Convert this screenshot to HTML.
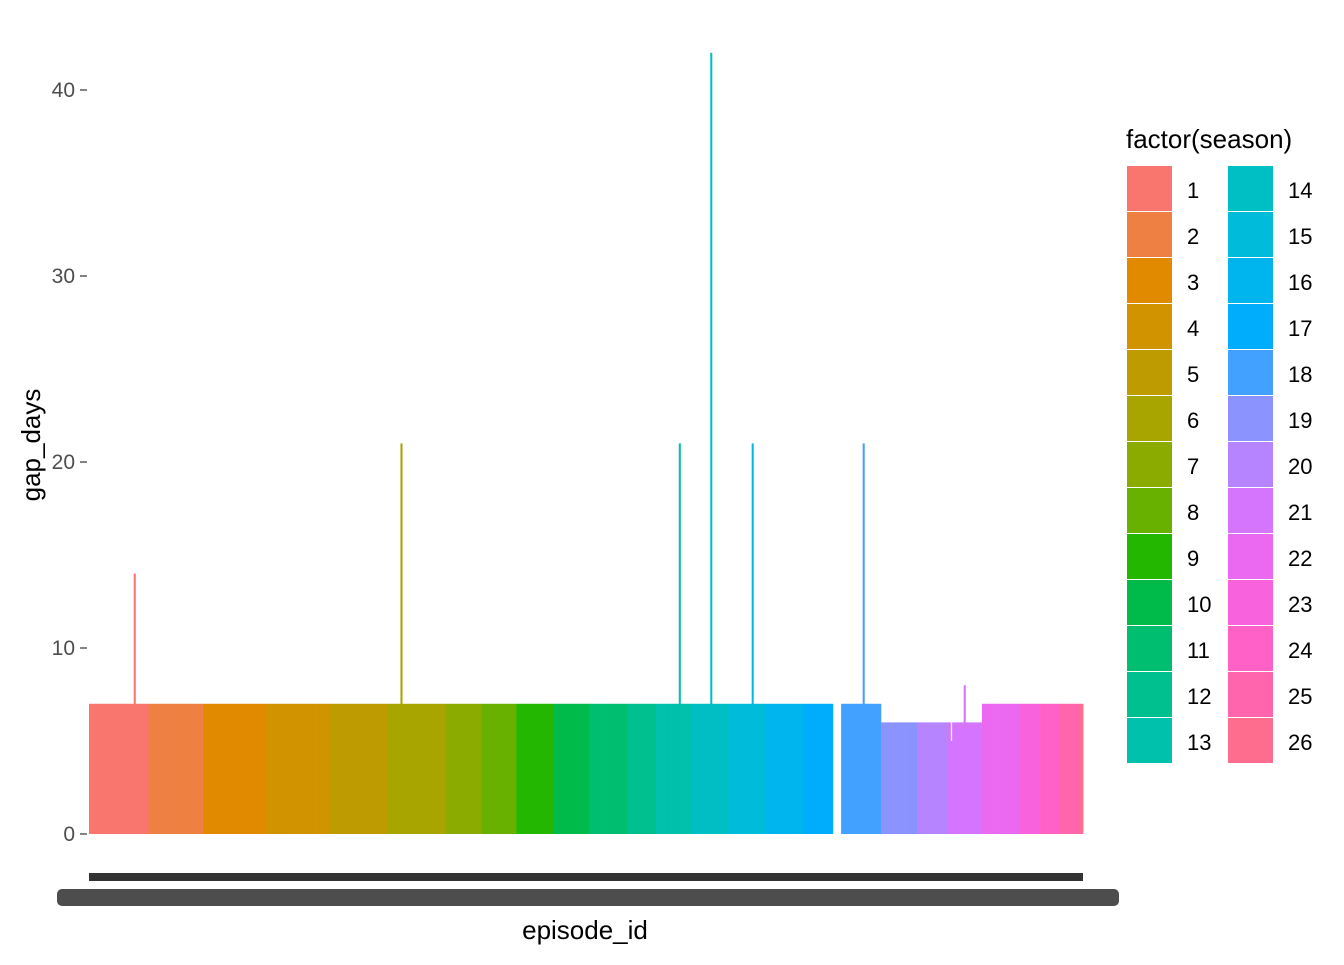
<!DOCTYPE html>
<html><head><meta charset="utf-8"><style>
body{margin:0;background:#fff;font-family:"Liberation Sans",sans-serif}
</style></head><body>
<svg id="c" width="1344" height="960" xmlns="http://www.w3.org/2000/svg"></svg>
<script>
const seasons=[1,2,3,4,5,6,7,8,9,10,11,12,13,14,15,16,17,18,19,20,21,22,23,24,25,26];
const episodeCounts=[36,33,38,38,35,35,22,21,22,22,23,17,22,22,22,23,23,24,22,18,21,23,12,12,12,2];
const baseGap=[7,7,7,7,7,7,7,7,7,7,7,7,7,7,7,7,7,7,6,6,6,7,7,7,7,7];
// [season, episode index within season, gap_days]
const spikes=[[1,27,14],[6,8,21],[13,14,21],[14,11,42],[15,14,21],[18,13,21],[21,10,8],[21,2,5],
[17,18,0],[17,19,0],[17,20,0],[17,21,0],[17,22,0]];
const yTicks=[0,10,20,30,40];

const svg=document.getElementById('c');const NS='http://www.w3.org/2000/svg';
function mk(t,a,p){const e=document.createElementNS(NS,t);for(const k in a)e.setAttribute(k,a[k]);(p||svg).appendChild(e);return e;}
function hcl(h,c,l){const hr=h*Math.PI/180;const L=l,u=Math.cos(hr)*c,v=Math.sin(hr)*c;
const Y=L>8?Math.pow((L+16)/116,3):L/903.3;const un=0.1978398,vn=0.4683363;
const up=u/(13*L)+un,vp=v/(13*L)+vn;const X=Y*9*up/(4*vp),Z=Y*(12-3*up-20*vp)/(4*vp);
let r=3.2406*X-1.5372*Y-0.4986*Z,g=-0.9689*X+1.8758*Y+0.0415*Z,bb=0.0557*X-0.2040*Y+1.0570*Z;
const gm=w=>{w=w<=0.0031308?12.92*w:1.055*Math.pow(w,1/2.4)-0.055;return Math.round(Math.max(0,Math.min(1,w))*255);};
return `rgb(${gm(r)},${gm(g)},${gm(bb)})`;}
const colors=seasons.map((s,i)=>hcl(15+360*i/26,100,65));

const x0=89,x1=1083,yBase=834,yPer=(834-90)/40;
const N=episodeCounts.reduce((a,b)=>a+b,0);const bw=(x1-x0)/N;
const y=v=>yBase-v*yPer;
yTicks.forEach(t=>{
const tk=mk('line',{x1:80,x2:87,y1:y(t),y2:y(t),stroke:'#333','stroke-width':1.2});

const tx=mk('text',{x:75,y:y(t)+7,'text-anchor':'end','font-size':21,fill:'#4d4d4d'});tx.textContent=t;
});
const g=mk('g',{});
let idx=0;
seasons.forEach((s,si)=>{for(let e=0;e<episodeCounts[si];e++){
let v=baseGap[si];spikes.forEach(p=>{if(p[0]===s&&p[1]===e)v=p[2];});
if(v>0){const r=mk('rect',{x:x0+idx*bw,y:y(v),width:bw+0.4,height:v*yPer,fill:colors[si]},g);
}
idx++;}});
mk('rect',{x:89,y:873,width:994,height:8,fill:'#333',});
mk('rect',{x:57,y:889,width:1062,height:17,rx:5,fill:'#4d4d4d',});
let t=mk('text',{x:585,y:939,'text-anchor':'middle','font-size':26,fill:'#000',});t.textContent='episode_id';
t=mk('text',{x:40,y:445,'text-anchor':'middle','font-size':26,fill:'#000',transform:'rotate(-90 40 445)',});t.textContent='gap_days';
const lg=mk('g',{});
t=mk('text',{x:1126,y:148,'font-size':26,fill:'#000',},lg);t.textContent='factor(season)';
seasons.forEach((s,i)=>{const col=i<13?0:1,row=i%13;const kx=col?1228:1127,ky=166+row*46;
const e=mk('g',{},lg);
mk('rect',{x:kx,y:ky,width:45,height:45,fill:colors[i]},e);
const tt=mk('text',{x:col?1288:1187,y:ky+32,'font-size':22,fill:'#000'},e);tt.textContent=s;});
</script>
</body></html>
